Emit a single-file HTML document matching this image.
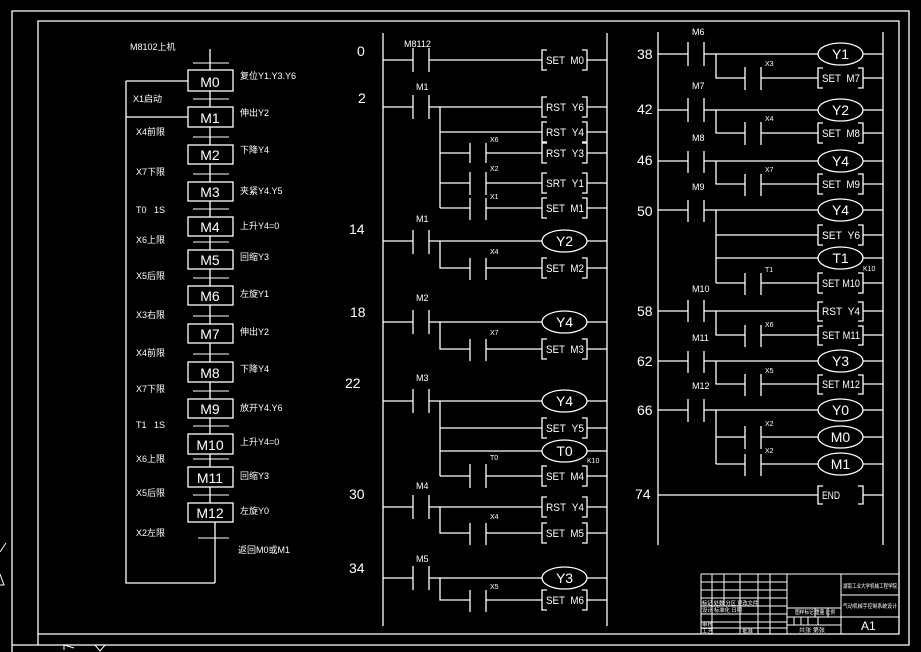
<!DOCTYPE html>
<html><head><meta charset="utf-8"><style>
html,body{margin:0;padding:0;background:#000;}
svg{display:block}
text{fill:#fff;font-family:"Liberation Sans","Noto Sans CJK SC",sans-serif;}
.m{font-family:"Liberation Mono","Noto Sans CJK SC",monospace;font-size:11px}
.s{font-size:7px}
.n{font-size:14px}
.c{font-size:9px}
</style></head><body>
<svg width="921" height="652" viewBox="0 0 921 652" xmlns="http://www.w3.org/2000/svg">
<g fill="none" stroke="#fff" stroke-width="1.3">
<path d="M12,652 V11 H909 V645 H12"/>
<path d="M38,645 V21 H899 V634 H38"/>
<line x1="210" y1="49" x2="210" y2="522"/>
<line x1="215" y1="522" x2="215" y2="583"/>
<path d="M126,81 V583 H215"/>
<line x1="126" y1="81" x2="188" y2="81"/>
<line x1="126" y1="117" x2="188" y2="117"/>
<g stroke-width="1">
<line x1="193" y1="63" x2="229" y2="63"/><line x1="193" y1="99" x2="229" y2="99"/>
<line x1="193" y1="137" x2="229" y2="137"/><line x1="193" y1="174" x2="229" y2="174"/>
<line x1="193" y1="209" x2="229" y2="209"/><line x1="193" y1="242" x2="229" y2="242"/>
<line x1="193" y1="278" x2="229" y2="278"/><line x1="193" y1="316" x2="229" y2="316"/>
<line x1="193" y1="354" x2="229" y2="354"/><line x1="193" y1="391" x2="229" y2="391"/>
<line x1="193" y1="426" x2="229" y2="426"/><line x1="193" y1="459" x2="229" y2="459"/>
<line x1="193" y1="495" x2="229" y2="495"/><line x1="198" y1="538" x2="229" y2="538"/>
</g>
<g fill="#000">
<rect x="188" y="70" width="45" height="21"/><rect x="188" y="107" width="45" height="20"/>
<rect x="188" y="145" width="45" height="19"/><rect x="188" y="182" width="45" height="19"/>
<rect x="188" y="217" width="45" height="19"/><rect x="188" y="250" width="45" height="19"/>
<rect x="188" y="286" width="45" height="19"/><rect x="188" y="324" width="45" height="19"/>
<rect x="188" y="362" width="45" height="20"/><rect x="188" y="399" width="45" height="19"/>
<rect x="188" y="434" width="45" height="20"/><rect x="188" y="467" width="45" height="20"/>
<rect x="188" y="503" width="45" height="19"/>
</g>
<line x1="383" y1="33" x2="383" y2="626"/><line x1="607" y1="33" x2="607" y2="626"/>
<path d="M383,60H413M429,60H542M587,60H607M413,48V72M429,48V72"/>
<path d="M547,50H542V70H547M582,50H587V70H582"/>
<path d="M383,107H413M429,107H542M587,107H607M413,95V119M429,95V119"/>
<path d="M440,107V208M440,132H542M587,132H607M440,153H470M486,153H542M587,153H607M440,183H470M486,183H542M587,183H607M440,208H470M486,208H542M587,208H607"/>
<path d="M470,143V163M486,143V163M470,172V195M486,172V195M470,198V220M486,198V220"/>
<path d="M547,97H542V117H547M582,97H587V117H582M547,122H542V142H547M582,122H587V142H582M547,143H542V163H547M582,143H587V163H582M547,173H542V193H547M582,173H587V193H582M547,198H542V218H547M582,198H587V218H582"/>
<path d="M383,241H413M429,241H542M587,241H607M413,230V254M429,230V254M440,241V268H470M486,268H542M587,268H607M470,258V280M486,258V280"/>
<ellipse cx="564.5" cy="241" rx="22.5" ry="11"/>
<path d="M547,258H542V278H547M582,258H587V278H582"/>
<path d="M383,322H413M429,322H542M587,322H607M413,310V334M429,310V334M440,322V349H470M486,349H542M587,349H607M470,339V361M486,339V361"/>
<ellipse cx="564.5" cy="322" rx="22.5" ry="11"/>
<path d="M547,339H542V359H547M582,339H587V359H582"/>
<path d="M383,401H413M429,401H542M587,401H607M413,389V413M429,389V413M440,401V476M440,428H542M587,428H607M440,451H542M587,451H607M440,476H470M486,476H542M587,476H607M470,464V488M486,464V488"/>
<ellipse cx="564.5" cy="401" rx="22.5" ry="11"/><ellipse cx="564.5" cy="451" rx="22.5" ry="11"/>
<path d="M547,418H542V438H547M582,418H587V438H582M547,466H542V486H547M582,466H587V486H582"/>
<path d="M383,507H413M429,507H542M587,507H607M413,495V519M429,495V519M440,507V533H470M486,533H542M587,533H607M470,523V545M486,523V545"/>
<path d="M547,497H542V517H547M582,497H587V517H582M547,523H542V543H547M582,523H587V543H582"/>
<path d="M383,578H413M429,578H542M587,578H607M413,566V590M429,566V590M440,578V600H470M486,600H542M587,600H607M470,590V612M486,590V612"/>
<ellipse cx="564.5" cy="578" rx="22.5" ry="11"/>
<path d="M547,590H542V610H547M582,590H587V610H582"/>

<line x1="658" y1="32" x2="658" y2="545"/><line x1="883" y1="32" x2="883" y2="545"/>
<path d="M658,54H688M704,54H818M863,54H883M688,42V66M704,42V66M716,54V78H745M761,78H818M863,78H883M745,67V90M761,67V90"/>
<ellipse cx="840.5" cy="54" rx="22.5" ry="11"/><path d="M823,68H818V88H823M858,68H863V88H858"/>
<path d="M658,110H688M704,110H818M863,110H883M688,98V122M704,98V122M716,110V133H745M761,133H818M863,133H883M745,122V145M761,122V145"/>
<ellipse cx="840.5" cy="110" rx="22.5" ry="11"/><path d="M823,123H818V143H823M858,123H863V143H858"/>
<path d="M658,161H688M704,161H818M863,161H883M688,151V173M704,151V173M716,161V184H745M761,184H818M863,184H883M745,174V196M761,174V196"/>
<ellipse cx="840.5" cy="161" rx="22.5" ry="11"/><path d="M823,174H818V194H823M858,174H863V194H858"/>
<path d="M658,210H688M704,210H818M863,210H883M688,200V222M704,200V222M716,210V283M716,235H818M863,235H883M716,258H818M863,258H883M716,283H745M761,283H818M863,283H883M745,273V295M761,273V295"/>
<ellipse cx="840.5" cy="210" rx="22.5" ry="11"/><ellipse cx="840.5" cy="258" rx="22.5" ry="11"/>
<path d="M823,225H818V245H823M858,225H863V245H858M823,273H818V293H823M858,273H863V293H858"/>
<path d="M658,311H688M704,311H818M863,311H883M688,300V322M704,300V322M716,311V335H745M761,335H818M863,335H883M745,325V347M761,325V347"/>
<path d="M823,302H818V321H823M858,302H863V321H858M823,326H818V345H823M858,326H863V345H858"/>
<path d="M658,361H688M704,361H818M863,361H883M688,351V373M704,351V373M716,361V384H745M761,384H818M863,384H883M745,374V396M761,374V396"/>
<ellipse cx="840.5" cy="361" rx="22.5" ry="11"/><path d="M823,375H818V394H823M858,375H863V394H858"/>
<path d="M658,410H688M704,410H818M863,410H883M688,399V422M704,399V422M716,410V464M716,437H745M761,437H818M863,437H883M716,464H745M761,464H818M863,464H883M745,426V449M761,426V449M745,454V476M761,454V476"/>
<ellipse cx="840.5" cy="410" rx="22.5" ry="11"/><ellipse cx="840.5" cy="437" rx="22.5" ry="11"/><ellipse cx="840.5" cy="464" rx="22.5" ry="11"/>
<path d="M658,495H818M863,495H883M823,486H818V504H823M858,486H863V504H858"/>

<g stroke-width="1">
<path d="M701,574H899M701,634V574M787,574V634M841,574V634M841,595H899M841,617H899"/>
<path d="M701,582H787M701,590H787M701,598H787M701,606H787M701,614H787M701,622H787M701,628H787"/>
<path d="M712,574V634M724,574V606M740,574V634M758,574V634M770,574V634"/>
<path d="M787,608H841M787,617H841M787,625H841M815,608V617M828,608V617M794,617V625M801,617V625M808,617V625M818,617V625"/>
</g>
<path d="M0,552L6,543M0,574L4,585H0" stroke-width="1"/>
<path d="M64,645V650M64,645L74,648M95,645L100,651L105,645" stroke-width="1"/>
</g>

<text x="130" y="50" class="c">M8102上机</text>
<g class="n" text-anchor="middle">
<text x="210" y="87">M0</text><text x="210" y="123">M1</text><text x="210" y="160">M2</text>
<text x="210" y="197">M3</text><text x="210" y="232">M4</text><text x="210" y="265">M5</text>
<text x="210" y="301">M6</text><text x="210" y="339">M7</text><text x="210" y="378">M8</text>
<text x="210" y="414">M9</text><text x="210" y="450">M10</text><text x="210" y="483">M11</text>
<text x="210" y="518">M12</text>
</g>
<g class="c">
<text x="240" y="79">复位Y1.Y3.Y6</text><text x="240" y="116">伸出Y2</text><text x="240" y="153">下降Y4</text>
<text x="240" y="194">夹紧Y4.Y5</text><text x="240" y="229">上升Y4=0</text><text x="240" y="260">回缩Y3</text>
<text x="240" y="297">左旋Y1</text><text x="240" y="335">伸出Y2</text><text x="240" y="372">下降Y4</text>
<text x="240" y="411">放开Y4.Y6</text><text x="240" y="445">上升Y4=0</text><text x="240" y="479">回缩Y3</text>
<text x="240" y="514">左旋Y0</text><text x="238" y="553">返回M0或M1</text>
<text x="133" y="102">X1启动</text><text x="136" y="135">X4前限</text><text x="136" y="175">X7下限</text>
<text x="136" y="213">T0&#160;&#160;&#160;1S</text><text x="136" y="243">X6上限</text><text x="136" y="279">X5后限</text>
<text x="136" y="318">X3右限</text><text x="136" y="356">X4前限</text><text x="136" y="392">X7下限</text>
<text x="136" y="428">T1&#160;&#160;&#160;1S</text><text x="136" y="462">X6上限</text><text x="136" y="496">X5后限</text>
<text x="136" y="536">X2左限</text>
</g>

<g class="n">
<text x="357" y="56">0</text><text x="358" y="103">2</text><text x="349" y="234">14</text>
<text x="350" y="317">18</text><text x="345" y="388">22</text><text x="349" y="499">30</text>
<text x="349" y="573">34</text>
<text x="637" y="59">38</text><text x="637" y="114">42</text><text x="637" y="165">46</text>
<text x="637" y="216">50</text><text x="637" y="316">58</text><text x="637" y="366">62</text>
<text x="637" y="415">66</text><text x="635" y="499">74</text>
</g>
<g class="c">
<text x="404" y="47">M8112</text><text x="416" y="90">M1</text><text x="416" y="222">M1</text>
<text x="416" y="301">M2</text><text x="416" y="381">M3</text><text x="416" y="489">M4</text>
<text x="416" y="562">M5</text>
<text x="692" y="35">M6</text><text x="692" y="89">M7</text><text x="692" y="141">M8</text>
<text x="692" y="190">M9</text><text x="692" y="292">M10</text><text x="692" y="341">M11</text>
<text x="692" y="389">M12</text>
</g>
<g class="s">
<text x="490" y="142">X6</text><text x="490" y="171">X2</text><text x="490" y="199">X1</text>
<text x="490" y="254">X4</text><text x="490" y="335">X7</text><text x="490" y="460">T0</text>
<text x="490" y="519">X4</text><text x="490" y="589">X5</text><text x="587" y="463">K10</text>
<text x="765" y="66">X3</text><text x="765" y="121">X4</text><text x="765" y="172">X7</text>
<text x="765" y="272">T1</text><text x="863" y="271">K10</text><text x="765" y="327">X6</text>
<text x="765" y="373">X5</text><text x="765" y="426">X2</text><text x="765" y="453">X2</text>
</g>
<g class="m" lengthAdjust="spacingAndGlyphs">
<text x="546" y="64" textLength="38" lengthAdjust="spacingAndGlyphs">SET&#160;&#160;M0</text>
<text x="546" y="111" textLength="38" lengthAdjust="spacingAndGlyphs">RST&#160;&#160;Y6</text>
<text x="546" y="136" textLength="38" lengthAdjust="spacingAndGlyphs">RST&#160;&#160;Y4</text>
<text x="546" y="157" textLength="38" lengthAdjust="spacingAndGlyphs">RST&#160;&#160;Y3</text>
<text x="546" y="187" textLength="38" lengthAdjust="spacingAndGlyphs">SRT&#160;&#160;Y1</text>
<text x="546" y="212" textLength="38" lengthAdjust="spacingAndGlyphs">SET&#160;&#160;M1</text>
<text x="546" y="272" textLength="38" lengthAdjust="spacingAndGlyphs">SET&#160;&#160;M2</text>
<text x="546" y="353" textLength="38" lengthAdjust="spacingAndGlyphs">SET&#160;&#160;M3</text>
<text x="546" y="432" textLength="38" lengthAdjust="spacingAndGlyphs">SET&#160;&#160;Y5</text>
<text x="546" y="480" textLength="38" lengthAdjust="spacingAndGlyphs">SET&#160;&#160;M4</text>
<text x="546" y="511" textLength="38" lengthAdjust="spacingAndGlyphs">RST&#160;&#160;Y4</text>
<text x="546" y="537" textLength="38" lengthAdjust="spacingAndGlyphs">SET&#160;&#160;M5</text>
<text x="546" y="604" textLength="38" lengthAdjust="spacingAndGlyphs">SET&#160;&#160;M6</text>
<text x="822" y="82" textLength="38" lengthAdjust="spacingAndGlyphs">SET&#160;&#160;M7</text>
<text x="822" y="137" textLength="38" lengthAdjust="spacingAndGlyphs">SET&#160;&#160;M8</text>
<text x="822" y="188" textLength="38" lengthAdjust="spacingAndGlyphs">SET&#160;&#160;M9</text>
<text x="822" y="239" textLength="38" lengthAdjust="spacingAndGlyphs">SET&#160;&#160;Y6</text>
<text x="822" y="287" textLength="38" lengthAdjust="spacingAndGlyphs">SET&#160;M10</text>
<text x="822" y="315" textLength="38" lengthAdjust="spacingAndGlyphs">RST&#160;&#160;Y4</text>
<text x="822" y="339" textLength="38" lengthAdjust="spacingAndGlyphs">SET&#160;M11</text>
<text x="822" y="388" textLength="38" lengthAdjust="spacingAndGlyphs">SET&#160;M12</text>
<text x="822" y="499" textLength="18" lengthAdjust="spacingAndGlyphs">END</text>
</g>
<g class="n" text-anchor="middle">
<text x="564.5" y="246">Y2</text><text x="564.5" y="327">Y4</text><text x="564.5" y="406">Y4</text>
<text x="564.5" y="456">T0</text><text x="564.5" y="583">Y3</text>
<text x="840.5" y="59">Y1</text><text x="840.5" y="115">Y2</text><text x="840.5" y="166">Y4</text>
<text x="840.5" y="215">Y4</text><text x="840.5" y="263">T1</text><text x="840.5" y="366">Y3</text>
<text x="840.5" y="415">Y0</text><text x="840.5" y="442">M0</text><text x="840.5" y="469">M1</text>
</g>
<g style="font-size:5.5px">
<text x="843" y="588" textLength="54" lengthAdjust="spacingAndGlyphs">湖南工业大学机械工程学院</text>
<text x="843" y="608" textLength="54" lengthAdjust="spacingAndGlyphs">气动机械手控制系统设计</text>
<text x="795" y="614" textLength="40" lengthAdjust="spacingAndGlyphs">图样标记 重量 比例</text>
<text x="799" y="632" textLength="26" lengthAdjust="spacingAndGlyphs">共张 第张</text>
<text x="702" y="605" textLength="56" lengthAdjust="spacingAndGlyphs">标记 处数 分区 更改文件</text>
<text x="702" y="612" textLength="40" lengthAdjust="spacingAndGlyphs">设计 标准化 日期</text>
<text x="702" y="626">审核</text><text x="702" y="633">工艺</text><text x="742" y="633">批准</text>
</g>
<text x="861" y="630" style="font-size:12px">A1</text>
</svg>
</body></html>
